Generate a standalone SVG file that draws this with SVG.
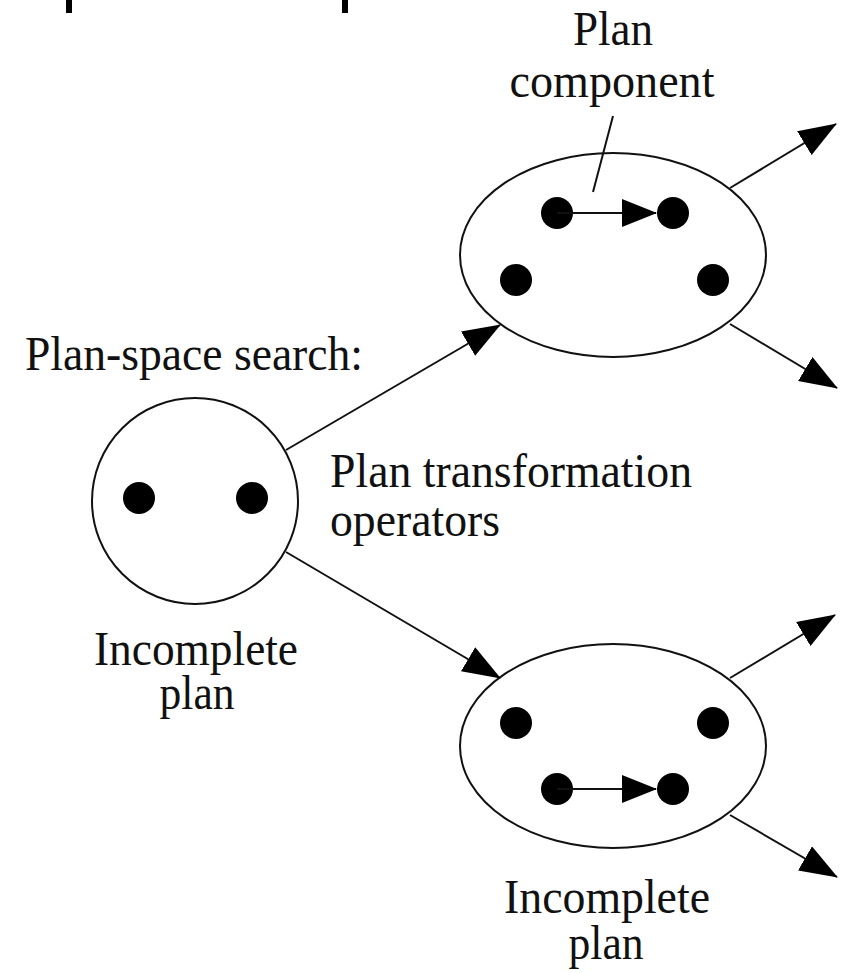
<svg xmlns="http://www.w3.org/2000/svg" width="842" height="973" viewBox="0 0 842 973">
<defs>
<marker id="ah" viewBox="0 0 38 28" refX="37" refY="14" markerWidth="38" markerHeight="28" markerUnits="userSpaceOnUse" orient="auto">
<path d="M0,0 L38,14 L0,28 z" fill="#000"/>
</marker>
<marker id="ahs" viewBox="0 0 35 28" refX="34" refY="14" markerWidth="35" markerHeight="28" markerUnits="userSpaceOnUse" orient="auto">
<path d="M0,0 L35,14 L0,28 z" fill="#000"/>
</marker>
</defs>
<style>
.t{font-family:"Liberation Serif","Times New Roman",serif;font-size:48px;fill:#111}
.m{text-anchor:middle}
.shape{fill:#fff;stroke:#111;stroke-width:2}
.dot{fill:#000}
.ln{stroke:#111;stroke-width:2;fill:none}
</style>
<rect width="842" height="973" fill="#fff"/>
<rect x="66" y="0" width="6" height="13" fill="#000"/>
<rect x="342" y="0" width="6" height="13" fill="#000"/>
<g id="label-search"><text class="t" x="25" y="370" textLength="338" lengthAdjust="spacingAndGlyphs">Plan-space search:</text></g>
<g id="label-operators"><text class="t" x="330" y="487" textLength="362" lengthAdjust="spacingAndGlyphs">Plan transformation</text><text class="t" x="330" y="536" textLength="170" lengthAdjust="spacingAndGlyphs">operators</text></g>
<g id="label-component"><text class="t m" x="613" y="45" textLength="80" lengthAdjust="spacingAndGlyphs">Plan</text><text class="t m" x="612" y="97" textLength="205" lengthAdjust="spacingAndGlyphs">component</text></g>
<g id="node-start">
<circle class="shape" cx="195" cy="501" r="103"/>
<circle class="dot" cx="139" cy="498" r="16"/>
<circle class="dot" cx="252" cy="498" r="16"/>
<text class="t m" x="196" y="665" textLength="204" lengthAdjust="spacingAndGlyphs">Incomplete</text><text class="t m" x="197" y="709" textLength="75" lengthAdjust="spacingAndGlyphs">plan</text>
</g>
<g id="node-top">
<ellipse class="shape" cx="613" cy="255" rx="153" ry="102"/>
<circle class="dot" cx="557" cy="213" r="16"/>
<circle class="dot" cx="673" cy="213" r="16"/>
<circle class="dot" cx="516" cy="280" r="16"/>
<circle class="dot" cx="713" cy="280" r="16"/>
<line class="ln" x1="557" y1="213" x2="656" y2="213" marker-end="url(#ahs)"/>
</g>
<g id="node-bottom">
<ellipse class="shape" cx="613" cy="746" rx="153" ry="102"/>
<circle class="dot" cx="516" cy="723" r="16"/>
<circle class="dot" cx="713" cy="723" r="16"/>
<circle class="dot" cx="557" cy="789" r="16"/>
<circle class="dot" cx="673" cy="789" r="16"/>
<line class="ln" x1="557" y1="789" x2="656" y2="789" marker-end="url(#ahs)"/>
<text class="t m" x="607" y="913" textLength="206" lengthAdjust="spacingAndGlyphs">Incomplete</text><text class="t m" x="606" y="959" textLength="75" lengthAdjust="spacingAndGlyphs">plan</text>
</g>
<g id="connectors">
<line class="ln" x1="613" y1="116" x2="593" y2="192"/>
<line class="ln" x1="286" y1="450" x2="500" y2="325" marker-end="url(#ah)"/>
<line class="ln" x1="286" y1="552" x2="500" y2="678" marker-end="url(#ah)"/>
<line class="ln" x1="730" y1="188" x2="836" y2="124" marker-end="url(#ah)"/>
<line class="ln" x1="730" y1="324" x2="837" y2="388" marker-end="url(#ah)"/>
<line class="ln" x1="730" y1="678" x2="835" y2="615" marker-end="url(#ah)"/>
<line class="ln" x1="730" y1="815" x2="837" y2="877" marker-end="url(#ah)"/>
</g>
</svg>
